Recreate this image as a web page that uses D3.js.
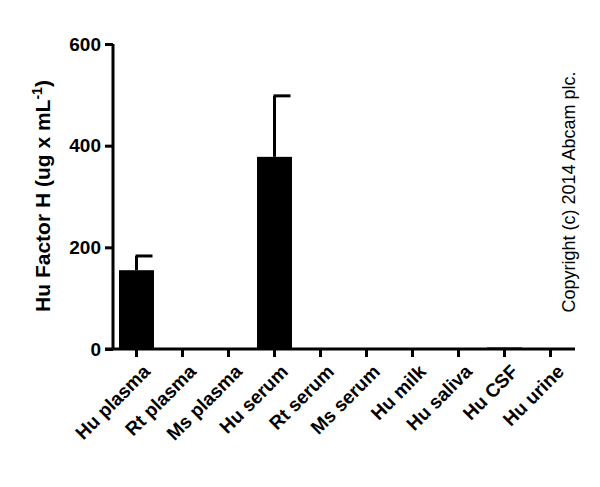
<!DOCTYPE html>
<html><head><script src="https://d3js.org/d3.v7.min.js"></script>
<style>body{margin:0;background:#fff}</style></head>
<body>
<svg id="c" width="600" height="487"></svg>
<script>
const categories = ["Hu plasma","Rt plasma","Ms plasma","Hu serum","Rt serum","Ms serum","Hu milk","Hu saliva","Hu CSF","Hu urine"];
const values = [155, 0, 0, 378, 0, 0, 0, 0, 3, 0];
const errors = [28, 0, 0, 120, 0, 0, 0, 0, 0, 0];
const yTicks = [0, 200, 400, 600];

const svg = d3.select("#c");
const font = "Arial, 'Liberation Sans', sans-serif";
const x = d3.scaleBand().domain(categories).range([113.5, 573.5]).paddingInner(0.24).paddingOuter(0.12);
const y = d3.scaleLinear().domain([0, 600]).range([349, 44]);

svg.append("g").selectAll("rect").data(values).join("rect")
  .attr("x", (d, i) => x(categories[i]))
  .attr("width", x.bandwidth())
  .attr("y", d => y(d))
  .attr("height", d => y(0) - y(d))
  .attr("fill", "#000");

const eb = svg.append("g").attr("stroke", "#000").attr("stroke-width", 3);
values.forEach((v, i) => {
  if (!errors[i]) return;
  const cx = x(categories[i]) + x.bandwidth() / 2;
  eb.append("line").attr("x1", cx).attr("x2", cx).attr("y1", y(v)).attr("y2", y(v + errors[i]));
  eb.append("line").attr("x1", cx - 1).attr("x2", cx + 16).attr("y1", y(v + errors[i])).attr("y2", y(v + errors[i]));
});

const ya = svg.append("g").attr("transform", "translate(113,0)")
  .call(d3.axisLeft(y).tickValues(yTicks).tickSize(8).tickPadding(4));
ya.select(".domain").attr("stroke-width", 3).attr("d", "M-0,349V44");
ya.selectAll(".tick line").attr("stroke-width", 3);
ya.selectAll("text").style("font-family", font).style("font-size", "19px").style("font-weight", "bold");

const xa = svg.append("g").attr("transform", "translate(0,349)")
  .call(d3.axisBottom(x).tickSize(8).tickSizeOuter(0));
xa.select(".domain").attr("stroke-width", 3).attr("d", "M105,0H575");
xa.selectAll(".tick line").attr("stroke-width", 3);
xa.selectAll("text").style("font-family", font).style("font-size", "19px").style("font-weight", "bold")
  .attr("text-anchor", "end").attr("dy", 0)
  .attr("transform", "translate(7,16) rotate(-45)");

svg.append("text").attr("transform", "translate(50,196) rotate(-90)")
  .attr("text-anchor", "middle").style("font-family", font).style("font-size", "21px").style("font-weight", "bold")
  .html('Hu Factor H (ug x mL<tspan dy="-8" style="font-size:14px">-1</tspan><tspan dy="8">)</tspan>');

svg.append("text").attr("transform", "translate(575,192) rotate(-90)")
  .attr("text-anchor", "middle").style("font-family", font).style("font-size", "18px")
  .text("Copyright (c) 2014 Abcam plc.");
</script>
</body></html>
